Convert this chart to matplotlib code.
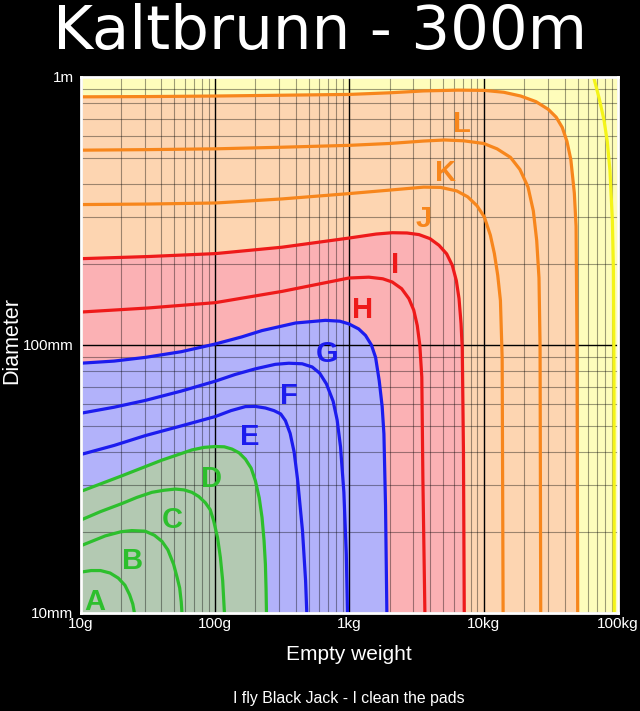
import matplotlib
matplotlib.use("Agg")
import matplotlib.pyplot as plt
from matplotlib.ticker import FixedLocator, LogLocator, NullFormatter

# Kurven: Leergewicht (g) / Durchmesser (mm)
a_g = [10, 12, 14.1, 16.6, 19.1, 21.4, 23.2, 24.5, 25.2]
a_mm = [14.2, 14.4, 14.4, 14.1, 13.5, 12.7, 11.7, 10.8, 10]

b_g = [10, 15.3, 20.0, 24.1, 30.3, 35.5, 40.4, 44.7, 49.3, 52.5, 54.7, 56.2, 56.9]
b_mm = [17.8, 19.4, 20.1, 20.3, 20.2, 19.5, 18.5, 17.2, 15.2, 13.5, 12.4, 11.0, 10]

c_g = [10, 14.1, 20.3, 26.3, 34.0, 41.7, 50.8, 58.9, 67.5, 75.9, 84.9, 92.3, 97.9,
       104.7, 109.9, 114.3, 117.8]
c_mm = [22.2, 23.9, 25.6, 27.0, 28.2, 28.7, 29.0, 28.8, 28.2, 27.2, 25.8, 24.3, 22.1,
        19.1, 16.1, 13.2, 10]

d_g = [10, 20.3, 40.4, 67.5, 83.2, 100.9, 117.5, 134.0, 151.4, 168.7, 186.2, 200.4,
       213.8, 224.4, 232.3, 237.7, 240.4, 242.1]
d_mm = [28.4, 32.5, 37.2, 40.6, 41.5, 41.8, 41.7, 40.9, 39.6, 37.5, 34.7, 31.1,
        26.9, 22.7, 18.6, 15.2, 12.3, 10]

e_g = [10, 17.8, 30.3, 56.2, 100.9, 131.8, 168.7, 199.5, 237.7, 275.4, 309.0, 335.0,
       363.1, 389.0, 412.1, 448.7, 473.2, 483.1]
e_mm = [39.0, 42.2, 45.9, 49.9, 54.1, 56.9, 58.9, 59.0, 58.2, 56.9, 55.3, 52.2,
        46.8, 39.8, 31.6, 20.3, 13.2, 10]

f_g = [10, 17.8, 30.3, 56.2, 100.9, 141.3, 200.4, 281.8, 354.8, 446.7, 529.7, 602.6,
       676.1, 758.6, 812.8, 861.0, 912.0, 950.6, 970.5]
f_mm = [55.6, 58.6, 62.1, 67.3, 73.3, 77.6, 81.5, 84.7, 85.5, 85.1, 82.8, 78.5,
        71.6, 61.7, 52.5, 41.7, 28.2, 16.6, 10]

g_g = [10, 17.8, 30.3, 56.2, 100.9, 158.5, 224.4, 398.1, 665.3, 851.1, 993.1, 1174.9,
       1321.3, 1462.2, 1570.4, 1671.1, 1757.9, 1811.3, 1862.1, 1905.5]
g_mm = [85.5, 87.1, 89.9, 94.4, 100.9, 107.2, 113.2, 120.8, 123.6, 122.7, 119.9, 114.8,
        108.6, 100, 89.9, 73.6, 58.9, 46.6, 25.1, 10]

h_g = [10, 31.6, 100.9, 316.2, 993.1, 1399.6, 1778, 2089, 2455, 2780, 3020, 3206,
       3350, 3467, 3532, 3656]
h_mm = [132.7, 137.4, 143.9, 158.5, 177.8, 179.1, 176.6, 171.8, 162.2, 148.9, 134.9,
        118.3, 100, 75.9, 31.6, 10]

i_g = [10, 31.6, 100.9, 316.2, 993.1, 1584.9, 2089, 2691, 3304, 3981, 4656, 5309,
       5848, 6266, 6561, 6792, 6934, 7079, 7178]
i_mm = [209.9, 213.8, 219.3, 231.7, 250.6, 259.4, 262.4, 261.8, 258.2, 249.5, 235.5,
        218.8, 198.2, 173.8, 148.9, 120.2, 96.8, 39.8, 10]

j_g = [10, 31.6, 101.9, 316.2, 1000, 1995, 3581, 4786, 6310, 7603, 8913, 10116,
       11220, 12023, 12735, 13335, 13740, 13964]
j_mm = [334.2, 335.7, 338.8, 350.8, 367.3, 378.4, 388.2, 387.3, 375.8, 357.3, 331.1,
        300.6, 257.0, 219.3, 182.0, 146.6, 89.1, 10]

k_g = [10, 31.6, 101.9, 316.2, 1000, 1995, 3581, 5117, 7079, 10000, 12589, 15849,
       18621, 21380, 23442, 24831, 25823, 26303, 26607]
k_mm = [533.3, 535.8, 539.5, 547.0, 555.9, 564.9, 576.8, 582.1, 578.1, 564.9, 539.5,
        501.2, 451.9, 389.0, 316.2, 245.5, 177.8, 100, 10]

l_g = [10, 31.6, 101.9, 316.2, 1000, 1995, 3581, 6457, 10116, 14125, 18880, 24547,
       30339, 34674, 38459, 41687, 44566, 47315, 48753, 49545, 50119]
l_mm = [843.3, 845.3, 849.2, 855.1, 861.0, 873.0, 887.2, 893.3, 891.3, 877.0, 849.2,
        809.1, 756.8, 707.9, 648.6, 575.4, 492.0, 369.0, 277.3, 100, 10]

m_g = [60256, 66222, 72444, 78705, 83176, 87096, 90782, 92470, 93325, 93756]
m_mm = [1202, 988.5, 831.8, 690.2, 575.4, 448.7, 291.7, 189.7, 80.4, 10]

# Beschriftungen der Kurven
label_names = ["A", "B", "C", "D", "E", "F", "G", "H", "I", "J", "K", "L"]
label_g = [12.8, 24.6, 48.1, 93.8, 183, 358, 687, 1253, 2208, 3573, 5212, 6855]
label_mm = [11.0, 15.6, 22.3, 31.7, 45.5, 64.7, 92.9, 134.6, 198, 294, 437, 667]

x_ticks = [10, 100, 1000, 10000, 100000]
x_ticklabels = ["10g", "100g", "1kg", "10kg", "100kg"]
y_ticks = [10, 100, 1000]
y_ticklabels = ["10mm", "100mm", "1m"]

# Farben
green, blue, red, orange, yellow = "#2dbf2d", "#1c1cee", "#ee1a1a", "#f7861c", "#f4f418"
green_fill, blue_fill, red_fill, orange_fill, yellow_fill = (
    "#b3c9b2", "#b2b2fa", "#fbb1b4", "#fdd5b1", "#fefdbb")

curves = [(a_g, a_mm, green), (b_g, b_mm, green), (c_g, c_mm, green), (d_g, d_mm, green),
          (e_g, e_mm, blue), (f_g, f_mm, blue), (g_g, g_mm, blue),
          (h_g, h_mm, red), (i_g, i_mm, red),
          (j_g, j_mm, orange), (k_g, k_mm, orange), (l_g, l_mm, orange),
          (m_g, m_mm, yellow)]
label_colors = [green] * 4 + [blue] * 3 + [red] * 2 + [orange] * 3

fig = plt.figure(figsize=(6.4, 7.11), dpi=100, facecolor="black")
ax = fig.add_axes([80.5 / 640, 1 - 613 / 711, (618 - 80.5) / 640, (613 - 77) / 711])
ax.set_xscale("log")
ax.set_yscale("log")
ax.set_xlim(10, 100000)
ax.set_ylim(10, 1000)
ax.set_facecolor(yellow_fill)

# Flaechen unter der jeweils aeussersten Kurve einer Farbgruppe
for w, d, c in [(l_g, l_mm, orange_fill), (i_g, i_mm, red_fill),
                (g_g, g_mm, blue_fill), (d_g, d_mm, green_fill)]:
    ax.fill(w + [10], d + [10], color=c, lw=0, zorder=1)

for w, d, c in curves:
    ax.plot(w, d, color=c, lw=2.3, solid_joinstyle="round", zorder=3)

for name, x, y, c in zip(label_names, label_g, label_mm, label_colors):
    ax.text(x, y, name, color=c, fontsize=21, fontweight="bold", ha="center", va="center",
            family=["Liberation Sans Narrow", "Liberation Sans"], zorder=4)

ax.xaxis.set_major_locator(FixedLocator(x_ticks))
ax.yaxis.set_major_locator(FixedLocator(y_ticks))
ax.xaxis.set_minor_locator(LogLocator(base=10, subs=range(2, 10)))
ax.yaxis.set_minor_locator(LogLocator(base=10, subs=range(2, 10)))
ax.xaxis.set_minor_formatter(NullFormatter())
ax.yaxis.set_minor_formatter(NullFormatter())
ax.set_xticklabels(x_ticklabels, family="Liberation Sans")
ax.set_yticklabels(y_ticklabels, family="Liberation Sans")
ax.tick_params(which="both", length=0, colors="white", labelsize=11)
ax.tick_params(axis="x", pad=3)
ax.tick_params(axis="y", pad=5)

ax.grid(True, which="major", color="black", lw=1.0, zorder=2)
ax.grid(True, which="minor", color="black", alpha=0.38, lw=0.8, zorder=2)
ax.set_axisbelow(False)
for s in ax.spines.values():
    s.set_color("white")
    s.set_linewidth(2)
    s.set_zorder(5)

fig.text(0.5, 1 - 49 / 711, "Kaltbrunn - 300m", color="white", fontsize=44,
         family="DejaVu Sans", ha="center", va="baseline")
fig.text(349 / 640, 1 - 655 / 711, "Empty weight", color="white", fontsize=15,
         family="Liberation Sans", ha="center", va="center")
fig.text(12 / 640, 1 - 340 / 711, "Diameter", color="white", fontsize=15.5,
         family="Liberation Sans", ha="center", va="center", rotation=90)
fig.text(349 / 640, 1 - 698 / 711, "I fly Black Jack - I clean the pads", color="white",
         fontsize=11.4, family="Liberation Sans", ha="center", va="center")

fig.savefig("out.png", dpi=100, facecolor="black")
